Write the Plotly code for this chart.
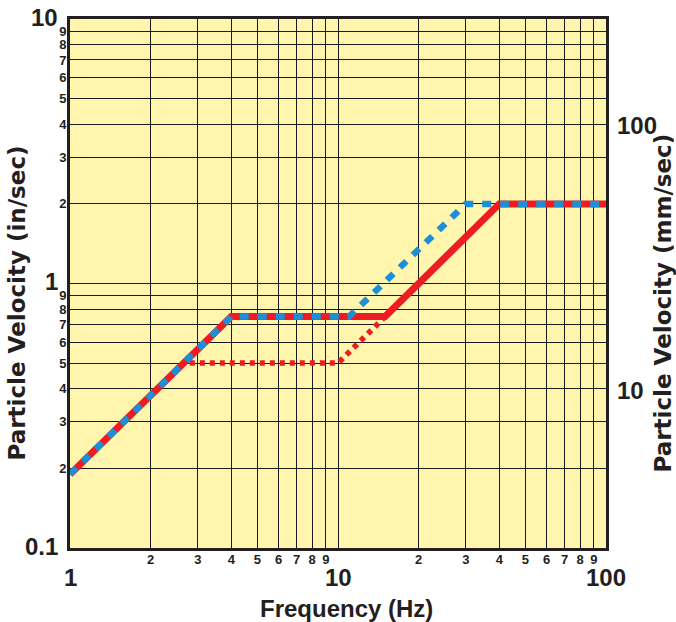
import math
import plotly.graph_objects as go

# ---- data (in/sec vs Hz) ----
drywall_freq = [1, 4, 15, 40, 100]
drywall_vel = [0.19, 0.75, 0.75, 2.0, 2.0]

plaster_freq = [2.8, 10, 15]
plaster_vel = [0.5, 0.5, 0.75]

osm_freq = [1, 4, 11, 30, 100]
osm_vel = [0.19, 0.75, 0.75, 2.0, 2.0]

x_minor = [2, 3, 4, 5, 6, 7, 8, 9, 20, 30, 40, 50, 60, 70, 80, 90]
x_major = [1, 10, 100]
y_minor = [0.2, 0.3, 0.4, 0.5, 0.6, 0.7, 0.8, 0.9, 2, 3, 4, 5, 6, 7, 8, 9]
y_major = [0.1, 1, 10]
y_major_text = ["0.1", "1", "10"]
mm_ticks = [10, 100]

RED = "#ED1C24"
BLUE = "#1C8FD6"
BG = "#FFF5AD"
FONT = "Liberation Sans"
WIDE = "DejaVu Sans"
INK = "#231F20"

fig = go.Figure()
fig.add_trace(go.Scatter(x=drywall_freq, y=drywall_vel, mode="lines",
                         line=dict(color=RED, width=7), showlegend=False))
fig.add_trace(go.Scatter(x=plaster_freq, y=plaster_vel, mode="lines",
                         line=dict(color=RED, width=5.5, dash="5px,5px"), showlegend=False))
fig.add_trace(go.Scatter(x=osm_freq, y=osm_vel, mode="lines",
                         line=dict(color=BLUE, width=6.5, dash="9px,9px"), showlegend=False))
# invisible trace for the right (mm/sec) axis
fig.add_trace(go.Scatter(x=[1], y=[10], yaxis="y2", mode="markers",
                         marker=dict(opacity=0), showlegend=False, hoverinfo="skip"))

grid_x = sorted(x_minor + x_major)
grid_y = sorted(y_minor + y_major)

fig.update_layout(
    width=676, height=622,
    margin=dict(l=70, r=70, t=19, b=74),
    paper_bgcolor="white", plot_bgcolor=BG,
    font=dict(family=FONT, color=INK),
    xaxis=dict(type="log", range=[0, 2], automargin=False,
               tickvals=grid_x,
               ticktext=["" if v in x_major else str(int(v if v < 10 else v / 10)) for v in grid_x],
               tickfont=dict(size=13, family=FONT, weight="bold"),
               ticks="", ticklabelstandoff=-3,
               showgrid=True, gridcolor="#1a1a1a", gridwidth=1.3,
               showline=True, linecolor=INK, linewidth=3, mirror=True,
               zeroline=False),
    yaxis=dict(type="log", range=[-1, 1], automargin=False,
               tickvals=grid_y,
               ticktext=["" if v in y_major else str(int(round(v * 10)) if v < 1 else int(v)) for v in grid_y],
               tickfont=dict(size=13, family=FONT, weight="bold"),
               ticks="", ticklabelstandoff=-2,
               showgrid=True, gridcolor="#1a1a1a", gridwidth=1.3,
               showline=True, linecolor=INK, linewidth=3, mirror=True,
               zeroline=False),
    yaxis2=dict(type="log", overlaying="y", side="right", automargin=False,
                range=[math.log10(2.54), math.log10(254)],
                tickvals=mm_ticks, ticktext=[str(v) for v in mm_ticks],
                tickfont=dict(size=24, family=FONT, weight="bold"),
                ticks="", ticklabelstandoff=10,
                showgrid=False, zeroline=False, showline=False),
)

ann = []
for v in x_major:
    ann.append(dict(x=math.log10(v), y=0, xref="x", yref="paper", text=f"<b>{v}</b>",
                    showarrow=False, xanchor="center", yanchor="top", yshift=-14,
                    font=dict(size=24, family=FONT, color=INK)))
for v, t in zip(y_major, y_major_text):
    ann.append(dict(x=0, y=math.log10(v), xref="paper", yref="y", text=f"<b>{t}</b>",
                    showarrow=False, xanchor="right", yanchor="middle", xshift=-10, yshift=2,
                    font=dict(size=24, family=FONT, color=INK)))
ann.append(dict(x=0.5, y=0, xref="paper", yref="paper", text="<b>Frequency (Hz)</b>",
                showarrow=False, xanchor="center", yanchor="middle", yshift=-60, xshift=8,
                font=dict(size=24, family=FONT, color=INK)))
ann.append(dict(x=0, y=0.5, xref="paper", yref="paper", text="<b>Particle Velocity (in/sec)</b>",
                showarrow=False, xanchor="center", yanchor="middle", xshift=-54, yshift=-20,
                textangle=-90, font=dict(size=23, family=WIDE, color=INK)))
ann.append(dict(x=1, y=0.5, xref="paper", yref="paper", text="<b>Particle Velocity (mm/sec)</b>",
                showarrow=False, xanchor="center", yanchor="middle", xshift=56, yshift=-20,
                textangle=-90, font=dict(size=23, family=WIDE, color=INK)))
fig.update_layout(annotations=ann)

fig.write_html("out.html", config={"displayModeBar": False},
               post_script="document.body.style.margin='0px';")
